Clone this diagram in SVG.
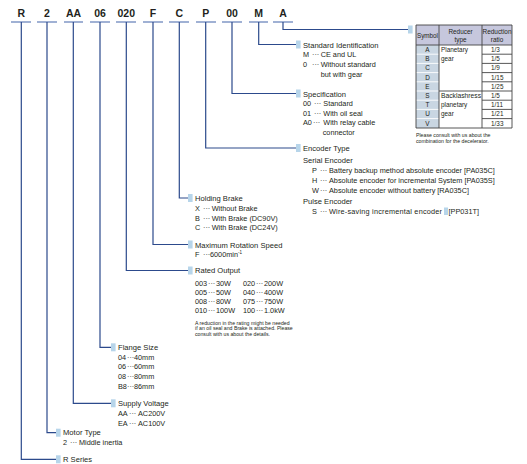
<svg xmlns="http://www.w3.org/2000/svg" width="527" height="464" viewBox="0 0 527 464">
<style>
text{font-family:"Liberation Sans",Arial,sans-serif;fill:#231f20}
.code{font-size:10.5px;font-weight:bold;text-anchor:middle}
.h{font-size:7.6px}
.t{font-size:7.3px}
.n{font-size:5.2px}
.tb{font-size:6.4px}
.tc{text-anchor:middle}
.ul{stroke:#8198c6;stroke-width:1.6;fill:none}
.con{stroke:#2c4a8c;stroke-width:1.2;fill:none}
.mk{fill:#b7d5ea}
.grid{stroke:#444;stroke-width:0.9;fill:none}
</style>
<rect width="527" height="464" fill="#fff"/>
<g id="codes">
<text class="code" x="21.3" y="17">R</text>
<text class="code" x="47" y="17">2</text>
<text class="code" x="73.5" y="17">AA</text>
<text class="code" x="100" y="17">06</text>
<text class="code" x="126.3" y="17">020</text>
<text class="code" x="153" y="17">F</text>
<text class="code" x="179.3" y="17">C</text>
<text class="code" x="205.7" y="17">P</text>
<text class="code" x="232" y="17">00</text>
<text class="code" x="258.7" y="17">M</text>
<text class="code" x="283" y="17">A</text>
<path class="ul" d="M11,22H31M37,22H57M64,22H83M90,22H110M116,22H136M143,22H163M169,22H189M196,22H216M222,22H242M249,22H268M273,22H293"/>
</g>
<g id="connectors">
<path class="con" d="M21.3,22V459.3H56"/>
<path class="con" d="M47,22V432.7H56"/>
<path class="con" d="M73.3,22V403.3H111"/>
<path class="con" d="M100,22V347.3H111"/>
<path class="con" d="M126.3,22V270.5H188"/>
<path class="con" d="M153,22V244.5H188"/>
<path class="con" d="M179.3,22V198H188"/>
<path class="con" d="M205.7,22V148H296"/>
<path class="con" d="M232,22V93.5H296"/>
<path class="con" d="M258.7,22V44.5H296"/>
<path class="con" d="M283,22V29.5H408"/>
</g>
<g id="std-id">
<rect class="mk" x="296" y="40.5" width="4.6" height="8"/>
<text class="h" x="303" y="47.5">Standard Identification</text>
<text class="t" y="57.3"><tspan x="303">M</tspan><tspan x="312">···</tspan><tspan x="320.7">CE and UL</tspan></text>
<text class="t" y="67"><tspan x="303">0</tspan><tspan x="312">···</tspan><tspan x="320.7">Without standard</tspan></text>
<text class="t" x="320.7" y="76.7">but with gear</text>
</g>
<g id="reducer-table">
<rect class="mk" x="408" y="25.5" width="4.6" height="8"/>
<rect x="416" y="25" width="96" height="20" fill="#c6c7dd"/>
<rect x="416" y="45" width="23" height="83" fill="#c9d6e2"/>
<path stroke="#fff" stroke-width="0.9" d="M416,54.2H439M416,63.4H439M416,72.6H439M416,81.8H439M416,91H439M416,100.2H439M416,109.4H439M416,118.6H439"/>
<path class="grid" d="M416,25H512V128H416ZM439,25V128M482,25V128M416,45H512M439,91H512M482,54.2H512M482,63.4H512M482,72.6H512M482,81.8H512M482,100.2H512M482,109.4H512M482,118.6H512"/>
<text class="tb" x="427.5" y="38" text-anchor="middle" font-size="5.8" textLength="21" lengthAdjust="spacingAndGlyphs">Symbol</text>
<text class="tb tc" x="460.5" y="33.5">Reducer</text>
<text class="tb tc" x="460.5" y="42">type</text>
<text class="tb tc" x="497" y="33.5" textLength="29" lengthAdjust="spacingAndGlyphs">Reduction</text>
<text class="tb tc" x="497" y="42">ratio</text>
<g class="tb">
<text class="tb tc" x="427.5" y="52">A</text>
<text class="tb tc" x="427.5" y="61.2">B</text>
<text class="tb tc" x="427.5" y="70.4">C</text>
<text class="tb tc" x="427.5" y="79.6">D</text>
<text class="tb tc" x="427.5" y="88.8">E</text>
<text class="tb tc" x="427.5" y="98">S</text>
<text class="tb tc" x="427.5" y="107.2">T</text>
<text class="tb tc" x="427.5" y="116.4">U</text>
<text class="tb tc" x="427.5" y="125.6">V</text>
<text class="tb" x="441" y="52">Planetary</text>
<text class="tb" x="441" y="61.2">gear</text>
<text class="tb" x="441" y="98" textLength="40" lengthAdjust="spacingAndGlyphs">Backlashress</text>
<text class="tb" x="441" y="107.2">planetary</text>
<text class="tb" x="441" y="116.4">gear</text>
<text class="tb" x="491" y="52">1/3</text>
<text class="tb" x="491" y="61.2">1/5</text>
<text class="tb" x="491" y="70.4">1/9</text>
<text class="tb" x="491" y="79.6">1/15</text>
<text class="tb" x="491" y="88.8">1/25</text>
<text class="tb" x="491" y="98">1/5</text>
<text class="tb" x="491" y="107.2">1/11</text>
<text class="tb" x="491" y="116.4">1/21</text>
<text class="tb" x="491" y="125.6">1/33</text>
</g>
<text class="n" x="416" y="136.5">Please consult with us about the</text>
<text class="n" x="416" y="142.5">combination for the decelerator.</text>
</g>
<g id="specification">
<rect class="mk" x="296" y="89.5" width="4.6" height="8"/>
<text class="h" x="303" y="96.5">Specification</text>
<text class="t" y="106"><tspan x="303">00</tspan><tspan x="314">···</tspan><tspan x="323.3">Standard</tspan></text>
<text class="t" y="115.7"><tspan x="303">01</tspan><tspan x="314">···</tspan><tspan x="323.3">With oil seal</tspan></text>
<text class="t" y="125.4"><tspan x="303">A0</tspan><tspan x="313">···</tspan><tspan x="323.3">With relay cable</tspan></text>
<text class="t" x="322.7" y="135">connector</text>
</g>
<g id="encoder-type">
<rect class="mk" x="296" y="144" width="4.6" height="8"/>
<text class="h" x="303" y="151">Encoder Type</text>
<text class="h" x="303" y="163.3">Serial Encoder</text>
<text class="t" y="173.3"><tspan x="312">P</tspan><tspan x="320">···</tspan><tspan x="329">Battery backup method absolute encoder [PA035C]</tspan></text>
<text class="t" y="183"><tspan x="312">H</tspan><tspan x="320">···</tspan><tspan x="329">Absolute encoder for incremental System [PA035S]</tspan></text>
<text class="t" y="192.7"><tspan x="312">W</tspan><tspan x="320">···</tspan><tspan x="329">Absolute encoder without battery [RA035C]</tspan></text>
<text class="h" x="303" y="204.3">Pulse Encoder</text>
<rect class="mk" x="444" y="207.5" width="4" height="7.5"/>
<text class="t" y="214"><tspan x="312">S</tspan><tspan x="320">···</tspan><tspan x="329" textLength="113" lengthAdjust="spacing">Wire-saving incremental encoder</tspan><tspan x="448.5">[PP031T]</tspan></text>
</g>
<g id="holding-brake">
<rect class="mk" x="188" y="194" width="4.6" height="8"/>
<text class="h" x="195" y="200.8">Holding Brake</text>
<text class="t" y="211"><tspan x="195">X</tspan><tspan x="203">···</tspan><tspan x="211.7">Without Brake</tspan></text>
<text class="t" y="220.7"><tspan x="195">B</tspan><tspan x="203">···</tspan><tspan x="211.7">With Brake (DC90V)</tspan></text>
<text class="t" y="230.4"><tspan x="195">C</tspan><tspan x="203">···</tspan><tspan x="211.7">With Brake (DC24V)</tspan></text>
</g>
<g id="max-speed">
<rect class="mk" x="188" y="240.5" width="4.6" height="8"/>
<text class="h" x="195" y="247.5">Maximum Rotation Speed</text>
<text class="t" y="257"><tspan x="195">F</tspan><tspan x="203">···</tspan><tspan x="210">6000min</tspan><tspan font-size="4.5" dy="-3">-1</tspan></text>
</g>
<g id="rated-output">
<rect class="mk" x="188" y="266.5" width="4.6" height="8"/>
<text class="h" x="195" y="273.3">Rated Output</text>
<text class="t" y="285.5"><tspan x="195">003</tspan><tspan x="208">···</tspan><tspan x="216">30W</tspan><tspan x="243">020</tspan><tspan x="256">···</tspan><tspan x="264">200W</tspan></text>
<text class="t" y="294.5"><tspan x="195">005</tspan><tspan x="208">···</tspan><tspan x="216">50W</tspan><tspan x="243">040</tspan><tspan x="256">···</tspan><tspan x="264">400W</tspan></text>
<text class="t" y="303.8"><tspan x="195">008</tspan><tspan x="208">···</tspan><tspan x="216">80W</tspan><tspan x="243">075</tspan><tspan x="256">···</tspan><tspan x="264">750W</tspan></text>
<text class="t" y="312.8"><tspan x="195">010</tspan><tspan x="208">···</tspan><tspan x="216">100W</tspan><tspan x="243">100</tspan><tspan x="256">···</tspan><tspan x="264">1.0kW</tspan></text>
<text class="n" x="195" y="324.5">A reduction in the rating might be needed</text>
<text class="n" x="195" y="330.2">if an oil seal and Brake is attached. Please</text>
<text class="n" x="195" y="335.9">consult with us about the details.</text>
</g>
<g id="flange-size">
<rect class="mk" x="111" y="343.3" width="4.6" height="8"/>
<text class="h" x="118" y="350">Flange Size</text>
<text class="t" y="360"><tspan x="118">04</tspan><tspan x="127">···</tspan><tspan x="134">40mm</tspan></text>
<text class="t" y="369"><tspan x="118">06</tspan><tspan x="127">···</tspan><tspan x="134">60mm</tspan></text>
<text class="t" y="379"><tspan x="118">08</tspan><tspan x="127">···</tspan><tspan x="134">80mm</tspan></text>
<text class="t" y="389"><tspan x="118">B8</tspan><tspan x="127">···</tspan><tspan x="134">86mm</tspan></text>
</g>
<g id="supply-voltage">
<rect class="mk" x="111" y="399.3" width="4.6" height="8"/>
<text class="h" x="118" y="406">Supply Voltage</text>
<text class="t" y="416"><tspan x="118">AA</tspan><tspan x="129">···</tspan><tspan x="138">AC200V</tspan></text>
<text class="t" y="426"><tspan x="118">EA</tspan><tspan x="129">···</tspan><tspan x="138">AC100V</tspan></text>
</g>
<g id="motor-type">
<rect class="mk" x="56" y="428.7" width="4.6" height="8"/>
<text class="h" x="63" y="435.4">Motor Type</text>
<text class="t" y="445.4"><tspan x="63">2</tspan><tspan x="70">···</tspan><tspan x="79">Middle inertia</tspan></text>
</g>
<g id="r-series">
<rect class="mk" x="56" y="455.3" width="4.6" height="8"/>
<text class="h" x="63" y="462">R Series</text>
</g>
</svg>
